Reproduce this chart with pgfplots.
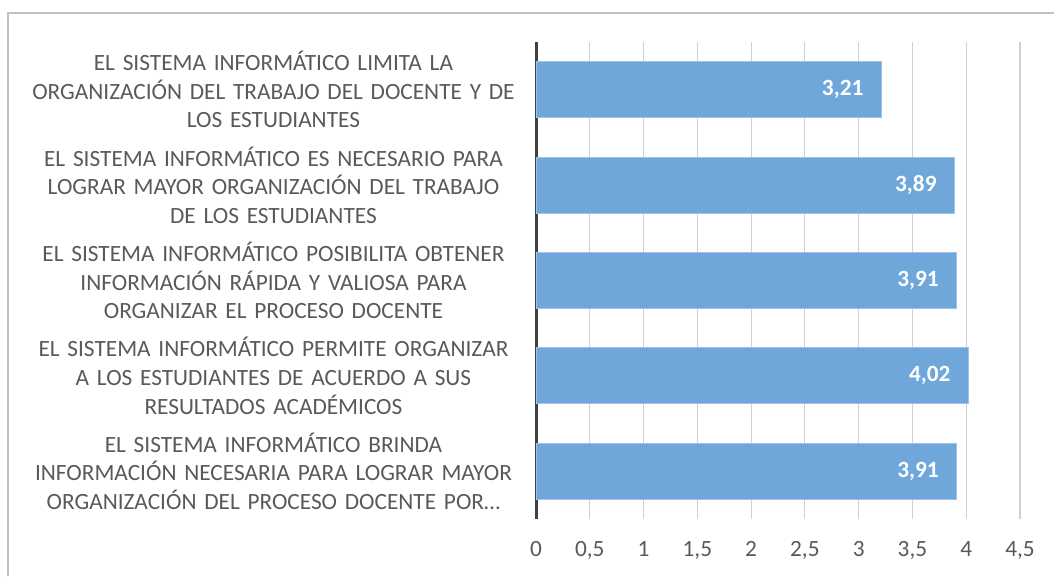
\documentclass[border=0pt]{standalone}
\usepackage{fontspec}
\setmainfont{Carlito}
\usepackage{pgfplots}
\pgfplotsset{compat=1.18}
\definecolor{BarBlue}{HTML}{6FA7DA}
\definecolor{BarEdge}{HTML}{9DC3E6}
\definecolor{TxtGray}{HTML}{595959}
\definecolor{GridGray}{HTML}{D0D0D0}
\definecolor{AxisDark}{HTML}{404040}
\definecolor{FrameGray}{HTML}{BFBFBF}

\begin{document}
\begin{tikzpicture}[x=1pt,y=1pt]
\useasboundingbox (0,0) rectangle (1054,576);
\draw[FrameGray,line width=2pt] (8,0) -- (8,563) -- (1054,563);
\begin{axis}[at={(536pt,57pt)},anchor=south west,scale only axis,
width=484pt,height=477pt,
xbar,bar width=56pt,
xmin=0,xmax=4.5,ymin=0.5,ymax=5.5,y dir=reverse,
xtick={0,0.5,...,4.5},ytick={1,2,3,4,5},
extra x ticks={0},extra x tick labels={},
extra x tick style={grid style={draw=AxisDark,line width=3pt}},
xmajorgrids,grid style={draw=GridGray,line width=1.2pt},
axis line style={draw=none},major tick length=0pt,
font=\fontsize{23.3}{28.6}\selectfont,
/pgf/number format/.cd,use comma,assume math mode=true,
/pgfplots/.cd,
xticklabel style={text=TxtGray,yshift=-19pt},
yticklabels={{EL SISTEMA INFORMÁTICO LIMITA LA\\ORGANIZACIÓN DEL TRABAJO DEL DOCENTE Y DE\\LOS ESTUDIANTES},
{EL SISTEMA INFORMÁTICO ES NECESARIO PARA\\LOGRAR MAYOR ORGANIZACIÓN DEL TRABAJO\\DE LOS ESTUDIANTES},
{EL SISTEMA INFORMÁTICO POSIBILITA OBTENER\\INFORMACIÓN RÁPIDA Y VALIOSA PARA\\ORGANIZAR EL PROCESO DOCENTE},
{EL SISTEMA INFORMÁTICO PERMITE ORGANIZAR\\A LOS ESTUDIANTES DE ACUERDO A SUS\\RESULTADOS ACADÉMICOS},
{EL SISTEMA INFORMÁTICO BRINDA\\INFORMACIÓN NECESARIA PARA LOGRAR MAYOR\\ORGANIZACIÓN DEL PROCESO DOCENTE POR…}},
yticklabel style={text=TxtGray,text width=486pt,align=center,anchor=east,xshift=-16pt},
nodes near coords,
nodes near coords style={anchor=east,xshift=-14pt,text=white,font=\fontsize{23.3}{28.6}\selectfont\bfseries,
/pgf/number format/.cd,fixed,fixed zerofill,precision=2,use comma,assume math mode=true},
]
\addplot[fill=BarBlue,draw=BarEdge,line width=1pt] coordinates
{(3.21,1)(3.89,2)(3.91,3)(4.02,4)(3.91,5)};
\end{axis}
\end{tikzpicture}
\end{document}
